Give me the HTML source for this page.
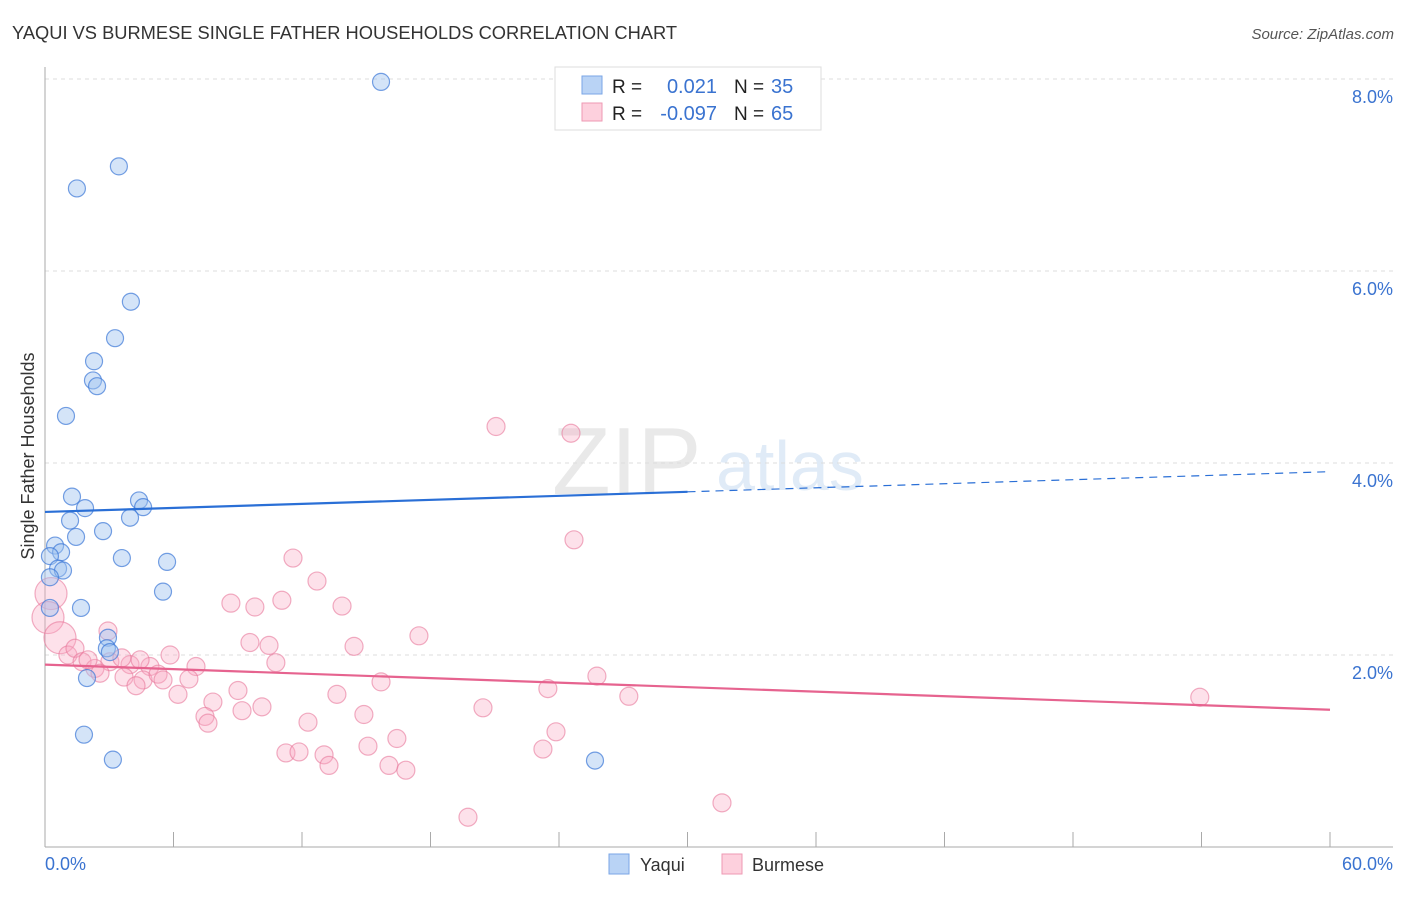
<!DOCTYPE html>
<html><head><meta charset="utf-8"><style>
body{margin:0;background:#fff;font-family:"Liberation Sans",sans-serif;}
svg text{font-family:"Liberation Sans",sans-serif;}
</style></head><body>
<svg id="chart" width="1406" height="892" viewBox="0 0 1406 892" xmlns="http://www.w3.org/2000/svg">
<text x="12" y="39" font-size="18.3" fill="#333">YAQUI VS BURMESE SINGLE FATHER HOUSEHOLDS CORRELATION CHART</text>
<text x="1394" y="39" font-size="15" fill="#555" font-style="italic" text-anchor="end">Source: ZipAtlas.com</text>
<g opacity="0.3">
<text x="552" y="494" font-size="96" font-family="Liberation Serif" fill="#b8b8b8">ZIP</text>
<text x="716" y="490" font-size="70" fill="#9cbfe6">atlas</text>
</g>
<g id="grid"></g><g id="axes"></g><g id="marks"></g>
<text transform="translate(34,456) rotate(-90)" font-size="18" fill="#333" text-anchor="middle">Single Father Households</text>
<g>
<rect x="555" y="67" width="266" height="63" fill="#fff" stroke="#ddd"/>
<rect x="582" y="76" width="20" height="18" fill="#b9d3f5" stroke="#7aa6e6"/>
<rect x="582" y="103" width="20" height="18" fill="#fdd0dd" stroke="#ee99b3"/>
<text x="612" y="93" font-size="19" fill="#222">R =</text>
<text x="717" y="93" font-size="20" fill="#3a73d0" text-anchor="end">0.021</text>
<text x="734" y="93" font-size="19" fill="#222">N =</text>
<text x="771" y="93" font-size="20" fill="#3a73d0">35</text>
<text x="612" y="120" font-size="19" fill="#222">R =</text>
<text x="717" y="120" font-size="20" fill="#3a73d0" text-anchor="end">-0.097</text>
<text x="734" y="120" font-size="19" fill="#222">N =</text>
<text x="771" y="120" font-size="20" fill="#3a73d0">65</text>
</g>
<g>
<rect x="609" y="854" width="20" height="20" fill="#b9d3f5" stroke="#7aa6e6"/>
<text x="640" y="871" font-size="18" fill="#333">Yaqui</text>
<rect x="722" y="854" width="20" height="20" fill="#fdd0dd" stroke="#ee99b3"/>
<text x="752" y="871" font-size="18" fill="#333">Burmese</text>
</g>
</svg>
<script>
const yTicks=[2,4,6,8];
const yTickLabels=["2.0%","4.0%","6.0%","8.0%"];
const xTicks=[0,6,12,18,24,30,36,42,48,54,60];
const xEndLabels=["0.0%","60.0%"];
const yaquiX=[15.69,3.45,1.49,4.01,3.27,2.29,2.24,2.43,0.98,1.26,4.39,1.87,4.58,1.17,3.97,1.45,2.71,0.47,0.75,0.23,3.59,5.70,0.61,0.84,0.23,5.51,1.68,0.23,2.94,2.89,3.03,1.96,1.82,3.17,25.68];
const yaquiY=[7.97,7.09,6.86,5.68,5.30,5.06,4.86,4.80,4.49,3.65,3.61,3.53,3.54,3.40,3.43,3.23,3.29,3.14,3.07,3.03,3.01,2.97,2.90,2.88,2.81,2.66,2.49,2.49,2.18,2.07,2.03,1.76,1.17,0.91,0.90];
const burmeseX=[21.06,24.56,24.70,11.58,12.70,8.68,9.80,11.06,13.87,17.46,9.57,10.46,14.43,2.94,0.28,0.14,0.70,1.07,1.40,3.03,3.97,4.90,7.05,10.78,1.73,2.33,2.57,3.69,4.58,5.28,5.51,6.72,5.84,3.59,4.25,6.21,9.01,15.69,23.48,25.77,27.26,53.92,7.84,13.63,7.47,9.20,10.13,7.61,12.28,14.89,20.45,23.86,16.43,15.08,11.25,11.86,13.03,13.26,16.06,16.85,23.25,31.61,19.75,2.01,4.44];
const burmeseY=[4.38,4.31,3.20,3.01,2.77,2.54,2.50,2.57,2.51,2.20,2.13,2.10,2.09,2.25,2.64,2.39,2.18,2.00,2.07,1.93,1.90,1.88,1.88,1.92,1.93,1.86,1.81,1.77,1.74,1.80,1.74,1.75,2.00,1.97,1.68,1.59,1.63,1.72,1.65,1.78,1.57,1.56,1.51,1.59,1.36,1.42,1.46,1.29,1.30,1.38,1.45,1.20,1.13,1.05,0.98,0.99,0.96,0.85,0.85,0.80,1.02,0.46,0.31,1.95,1.95];
const burmeseBig=[14,15,16];
const yaquiTrend=[3.49,3.91];
const burmeseTrend=[1.90,1.43];
const NS="http://www.w3.org/2000/svg";
const X0=45,X1=1330,Y0=847,PX=96;
function sx(v){return X0+(X1-X0)*v/60;}
function sy(v){return Y0-v*PX;}
function mk(tag,attrs,parent){const e=document.createElementNS(NS,tag);for(const k in attrs)e.setAttribute(k,attrs[k]);parent.appendChild(e);return e;}
const grid=document.getElementById('grid'),axes=document.getElementById('axes'),marks=document.getElementById('marks');
yTicks.forEach((t,i)=>{
 const l=mk('line',{x1:X0,x2:1393,y1:sy(t),y2:sy(t),stroke:'#ddd','stroke-dasharray':'4,4'},grid);
 
 
 const tx=mk('text',{x:1393,y:sy(t)+24,'font-size':18,fill:'#3a73d0','text-anchor':'end'},axes);
 tx.textContent=yTickLabels[i];
 
 
});
const ax=mk('line',{x1:X0,x2:X0,y1:67,y2:Y0,stroke:'#aaa'},axes);


const bx=mk('line',{x1:X0,x2:1393,y1:Y0,y2:Y0,stroke:'#aaa'},axes);


xTicks.forEach(t=>{
 const l=mk('line',{x1:sx(t),x2:sx(t),y1:Y0-15,y2:Y0,stroke:'#aaa'},axes);
 
 
});
const xl0=mk('text',{x:45,y:870,'font-size':18,fill:'#3a73d0'},axes);xl0.textContent=xEndLabels[0];


const xl1=mk('text',{x:1393,y:870,'font-size':18,fill:'#3a73d0','text-anchor':'end'},axes);xl1.textContent=xEndLabels[1];


burmeseX.forEach((v,i)=>{
 const big=burmeseBig.indexOf(i)>=0;
 const c=mk('circle',{cx:sx(v),cy:sy(burmeseY[i]),r:big?16:9,fill:'rgba(248,170,195,0.35)',stroke:'rgba(232,120,155,0.6)','stroke-width':1.2},marks);
 
 
});
yaquiX.forEach((v,i)=>{
 const c=mk('circle',{cx:sx(v),cy:sy(yaquiY[i]),r:8.5,fill:'rgba(160,195,240,0.45)',stroke:'rgba(60,120,215,0.7)','stroke-width':1.2},marks);
 
 
});
const ymid=yaquiTrend[0]+(yaquiTrend[1]-yaquiTrend[0])*0.5;
const t1=mk('line',{x1:sx(0),y1:sy(yaquiTrend[0]),x2:sx(30),y2:sy(ymid),stroke:'#2a6fd6','stroke-width':2.2},marks);


const t2=mk('line',{x1:sx(30),y1:sy(ymid),x2:sx(60),y2:sy(yaquiTrend[1]),stroke:'#2a6fd6','stroke-width':1.2,'stroke-dasharray':'8,6'},marks);


const t3=mk('line',{x1:sx(0),y1:sy(burmeseTrend[0]),x2:sx(60),y2:sy(burmeseTrend[1]),stroke:'#e6638f','stroke-width':2.2},marks);


</script>
</body></html>
